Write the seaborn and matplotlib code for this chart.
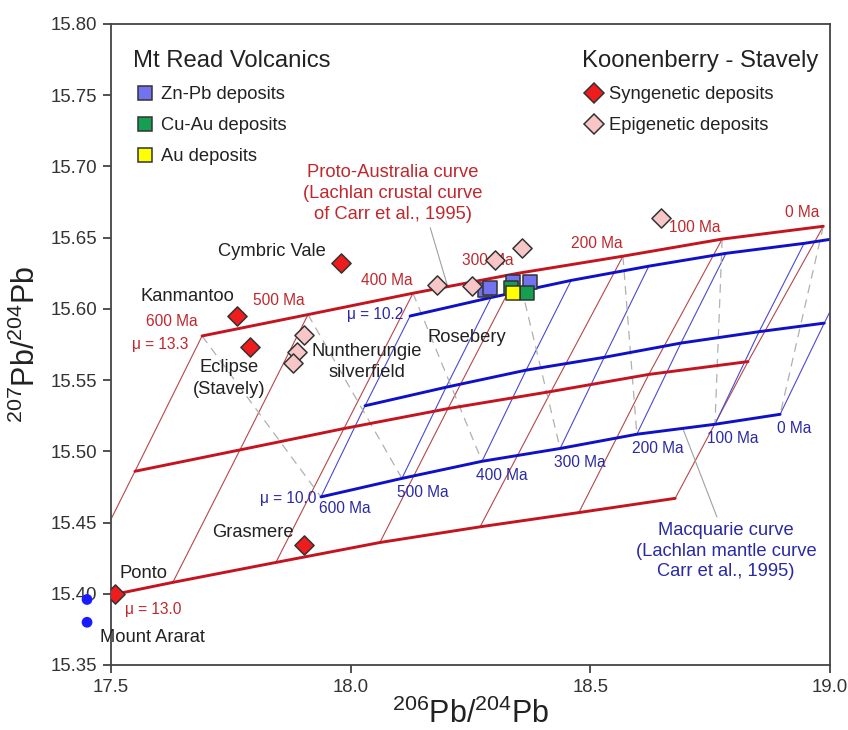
import numpy as np
import pandas as pd
import matplotlib
matplotlib.use("Agg")
import matplotlib.pyplot as plt
import seaborn as sns
from matplotlib.lines import Line2D

sns.set_theme(style="ticks")
plt.rcParams['font.family'] = ['Liberation Sans', 'DejaVu Sans']
plt.rcParams['mathtext.fontset'] = 'custom'
plt.rcParams['mathtext.rm'] = 'Liberation Sans'
plt.rcParams['mathtext.it'] = 'Liberation Sans:italic'
plt.rcParams['mathtext.bf'] = 'Liberation Sans:bold'

# ---------------- data ----------------
ages = [600, 500, 400, 300, 200, 100, 0]

# Proto-Australia (Lachlan crustal) growth curves
red_top_x = [17.690, 17.911, 18.130, 18.349, 18.568, 18.775, 18.986]
red_top_y = [15.581, 15.596, 15.611, 15.625, 15.637, 15.649, 15.658]
red_mid_x = [17.550, 17.769, 17.986, 18.203, 18.418, 18.622, 18.829]
red_mid_y = [15.486, 15.501, 15.516, 15.530, 15.542, 15.554, 15.563]
red_bot_x = [17.412, 17.629, 17.844, 18.061, 18.270, 18.476, 18.677]
red_bot_y = [15.393, 15.408, 15.422, 15.436, 15.447, 15.457, 15.467]

# Macquarie (Lachlan mantle) growth curves
blue_top_x = [18.124, 18.293, 18.460, 18.622, 18.783, 18.946, 19.081]
blue_top_y = [15.595, 15.608, 15.620, 15.630, 15.639, 15.646, 15.653]
blue_mid_x = [18.030, 18.199, 18.366, 18.529, 18.689, 18.852, 18.988]
blue_mid_y = [15.532, 15.545, 15.557, 15.566, 15.576, 15.584, 15.590]
blue_bot_x = [17.938, 18.107, 18.274, 18.437, 18.597, 18.760, 18.896]
blue_bot_y = [15.468, 15.481, 15.493, 15.502, 15.512, 15.519, 15.526]

# Koonenberry - Stavely
syn_names = ["Cymbric Vale", "Kanmantoo", "Eclipse", "Grasmere", "Ponto"]
syn_x = [17.980, 17.763, 17.790, 17.903, 17.508]
syn_y = [15.632, 15.595, 15.573, 15.434, 15.400]
epi_x = [17.903, 17.888, 17.880, 18.180, 18.253, 18.301, 18.358, 18.648]
epi_y = [15.582, 15.570, 15.562, 15.617, 15.616, 15.634, 15.643, 15.664]

# Mt Read Volcanics
znpb_x = [18.280, 18.291, 18.339, 18.374]
znpb_y = [15.613, 15.615, 15.619, 15.619]
cuau_x = [18.335, 18.368]
cuau_y = [15.615, 15.611]
au_x = [18.339]
au_y = [15.611]

# Mount Ararat
ararat_x = [17.450, 17.450]
ararat_y = [15.396, 15.380]

x_ticks = [17.5, 18.0, 18.5, 19.0]
y_ticks = [15.35, 15.40, 15.45, 15.50, 15.55, 15.60, 15.65, 15.70, 15.75, 15.80]

# ---------------- styles ----------------
RED = "#c41420"
RED_T = "#c0282d"
RED_THIN = "#b5474a"
BLUE = "#1010c8"
BLUE_T = "#2a2aa5"
BLUE_THIN = "#4a4ad0"
DARK = "#222222"
EDGE = "#333333"

fig = plt.figure(figsize=(8.48, 7.30), dpi=100)
ax = fig.add_axes([111/848, 1-665/730, (830-111)/848, (665-24)/730])

# growth curves dataframe
curves = {
    "red_top": (red_top_x, red_top_y, "red"),
    "red_mid": (red_mid_x, red_mid_y, "red"),
    "red_bot": (red_bot_x, red_bot_y, "red"),
    "blue_top": (blue_top_x, blue_top_y, "blue"),
    "blue_mid": (blue_mid_x, blue_mid_y, "blue"),
    "blue_bot": (blue_bot_x, blue_bot_y, "blue"),
}
rows = []
for name, (xs, ys, fam) in curves.items():
    for a, xv, yv in zip(ages, xs, ys):
        rows.append(dict(curve=name, family=fam, age=a, x=xv, y=yv))
df = pd.DataFrame(rows)

# thin lines connecting equal ages (bottom -> middle -> top)
iso_rows = []
for fam, order in (("red", ["red_bot", "red_mid", "red_top"]),
                   ("blue", ["blue_bot", "blue_mid", "blue_top"])):
    for a in ages:
        for k, c in enumerate(order):
            r = df[(df.curve == c) & (df.age == a)].iloc[0]
            iso_rows.append(dict(unit=f"{fam}{a}", family=fam, k=k, x=r.x, y=r.y))
iso = pd.DataFrame(iso_rows)

sns.lineplot(data=iso[iso.family == "red"], x="x", y="y", units="unit", estimator=None,
             sort=False, color=RED_THIN, lw=0.8, ax=ax, zorder=1, legend=False)
sns.lineplot(data=iso[iso.family == "blue"], x="x", y="y", units="unit", estimator=None,
             sort=False, color=BLUE_THIN, lw=0.8, ax=ax, zorder=1, legend=False)

# dashed connectors between crustal top curve and mantle bottom curve
dash_rows = []
for a, x1, y1, x2, y2 in zip(ages, red_top_x, red_top_y, blue_bot_x, blue_bot_y):
    dash_rows.append(dict(unit=a, x=x1, y=y1, k=0))
    dash_rows.append(dict(unit=a, x=x2, y=y2, k=1))
dd = pd.DataFrame(dash_rows)
sns.lineplot(data=dd, x="x", y="y", units="unit", estimator=None, sort=False,
             color="#b0b0b0", lw=0.9, ax=ax, zorder=1, legend=False,
             dashes=False, linestyle=(0, (7, 5)))

# thick growth curves
sns.lineplot(data=df[df.family == "red"], x="x", y="y", units="curve", estimator=None,
             sort=False, color=RED, lw=2.1, ax=ax, zorder=2, legend=False)
sns.lineplot(data=df[df.family == "blue"], x="x", y="y", units="curve", estimator=None,
             sort=False, color=BLUE, lw=2.1, ax=ax, zorder=2, legend=False)

# leader lines
ax.plot([18.166, 18.203], [15.657, 15.615], color="#a0a0a0", lw=0.8, zorder=1)
ax.plot([18.693, 18.764], [15.516, 15.454], color="#a0a0a0", lw=0.8, zorder=1)

# scatter points
sns.scatterplot(x=znpb_x, y=znpb_y, marker="s", s=88, color="#7373f0", edgecolor=EDGE,
                linewidth=1.1, ax=ax, zorder=5)
sns.scatterplot(x=cuau_x, y=cuau_y, marker="s", s=88, color="#14a050", edgecolor=EDGE,
                linewidth=1.1, ax=ax, zorder=5)
sns.scatterplot(x=au_x, y=au_y, marker="s", s=88, color="#ffff00", edgecolor=EDGE,
                linewidth=1.1, ax=ax, zorder=5)
sns.scatterplot(x=epi_x, y=epi_y, marker="D", s=95, color="#f8c6c6", edgecolor=EDGE,
                linewidth=1.1, ax=ax, zorder=5)
sns.scatterplot(x=syn_x, y=syn_y, marker="D", s=95, color="#ee1c1c", edgecolor=EDGE,
                linewidth=1.1, ax=ax, zorder=5)
sns.scatterplot(x=ararat_x, y=ararat_y, marker="o", s=60, color="#1a1aff", edgecolor="none",
                ax=ax, zorder=5, clip_on=False)

# ---------------- text ----------------
def txt(x, y, s, color=DARK, size=13.2, ha="center", **kw):
    ax.text(x, y, s, color=color, fontsize=size, ha=ha, va="center", zorder=3, **kw)

txt(17.836, 15.640, "Cymbric Vale")
txt(17.659, 15.609, "Kanmantoo")
txt(17.746, 15.551, "Eclipse\n(Stavely)", linespacing=1.35)
txt(18.034, 15.563, "Nuntherungie\nsilverfield", linespacing=1.3)
txt(18.243, 15.580, "Rosebery")
txt(17.796, 15.443, "Grasmere")
txt(17.567, 15.414, "Ponto")
txt(17.586, 15.369, "Mount Ararat")

txt(18.088, 15.681, "Proto-Australia curve\n(Lachlan crustal curve\nof Carr et al., 1995)",
    color=RED_T, size=13.2, linespacing=1.3)
txt(18.783, 15.430, "Macquarie curve\n(Lachlan mantle curve\nCarr et al., 1995)",
    color=BLUE_T, size=13.2, linespacing=1.3)

red_lab_x = [17.627, 17.851, 18.076, 18.287, 18.514, 18.718, 18.942]
red_lab_y = [15.591, 15.606, 15.620, 15.634, 15.646, 15.657, 15.668]
blue_lab_x = [17.988, 18.151, 18.316, 18.479, 18.641, 18.798, 18.925]
blue_lab_y = [15.460, 15.471, 15.483, 15.492, 15.502, 15.509, 15.516]
for a, lx, ly in zip(ages, red_lab_x, red_lab_y):
    txt(lx, ly, f"{a} Ma", color=RED_T, size=11.2)
for a, lx, ly in zip(ages, blue_lab_x, blue_lab_y):
    txt(lx, ly, f"{a} Ma", color=BLUE_T, size=11.2)

txt(17.602, 15.575, "\u03bc = 13.3", color=RED_T, size=11.2)
txt(17.588, 15.389, "\u03bc = 13.0", color=RED_T, size=11.2)
txt(18.051, 15.596, "\u03bc = 10.2", color=BLUE_T, size=11.2)
txt(17.869, 15.467, "\u03bc = 10.0", color=BLUE_T, size=11.2)

# ---------------- legends ----------------
h1 = [Line2D([], [], marker="s", ls="", ms=10, mfc="#7373f0", mec=EDGE, mew=1.1, label="Zn-Pb deposits"),
      Line2D([], [], marker="s", ls="", ms=10, mfc="#14a050", mec=EDGE, mew=1.1, label="Cu-Au deposits"),
      Line2D([], [], marker="s", ls="", ms=10, mfc="#ffff00", mec=EDGE, mew=1.1, label="Au deposits")]
h2 = [Line2D([], [], marker="D", ls="", ms=10, mfc="#ee1c1c", mec=EDGE, mew=1.1, label="Syngenetic deposits"),
      Line2D([], [], marker="D", ls="", ms=10, mfc="#f8c6c6", mec=EDGE, mew=1.1, label="Epigenetic deposits")]
common = dict(loc="upper left", frameon=False, fontsize=13.2, title_fontsize=17.2,
              alignment="left", handlelength=1.3, handletextpad=0.2, labelspacing=0.76,
              borderpad=0, borderaxespad=0)
leg1 = ax.legend(handles=h1, title="Mt Read Volcanics", bbox_to_anchor=(0.031, 0.959), **common)
ax.add_artist(leg1)
leg2 = ax.legend(handles=h2, title="Koonenberry - Stavely", bbox_to_anchor=(0.655, 0.959), **common)
for lg in (leg1, leg2):
    lg.get_title().set_color(DARK)
    for t in lg.get_texts():
        t.set_color(DARK)

# ---------------- axes ----------------
ax.set_xlim(17.5, 19.0)
ax.set_ylim(15.35, 15.80)
ax.set_xticks(x_ticks)
ax.set_xticklabels([f"{v:.1f}" for v in x_ticks])
ax.set_yticks(y_ticks)
ax.set_yticklabels([f"{v:.2f}" for v in y_ticks])
ax.tick_params(direction="out", length=6, width=1.2, color="#333333", labelsize=13.4,
               labelcolor="#333333", pad=4)
for sp in ax.spines.values():
    sp.set_visible(True)
    sp.set_color("#444444")
    sp.set_linewidth(1.3)
ax.set_xlabel(r"$^{206}$Pb/$^{204}$Pb", fontsize=22, color=DARK, labelpad=2)
ax.set_ylabel(r"$^{207}$Pb/$^{204}$Pb", fontsize=22, color=DARK, labelpad=6)

fig.savefig("out.png", dpi=100)
